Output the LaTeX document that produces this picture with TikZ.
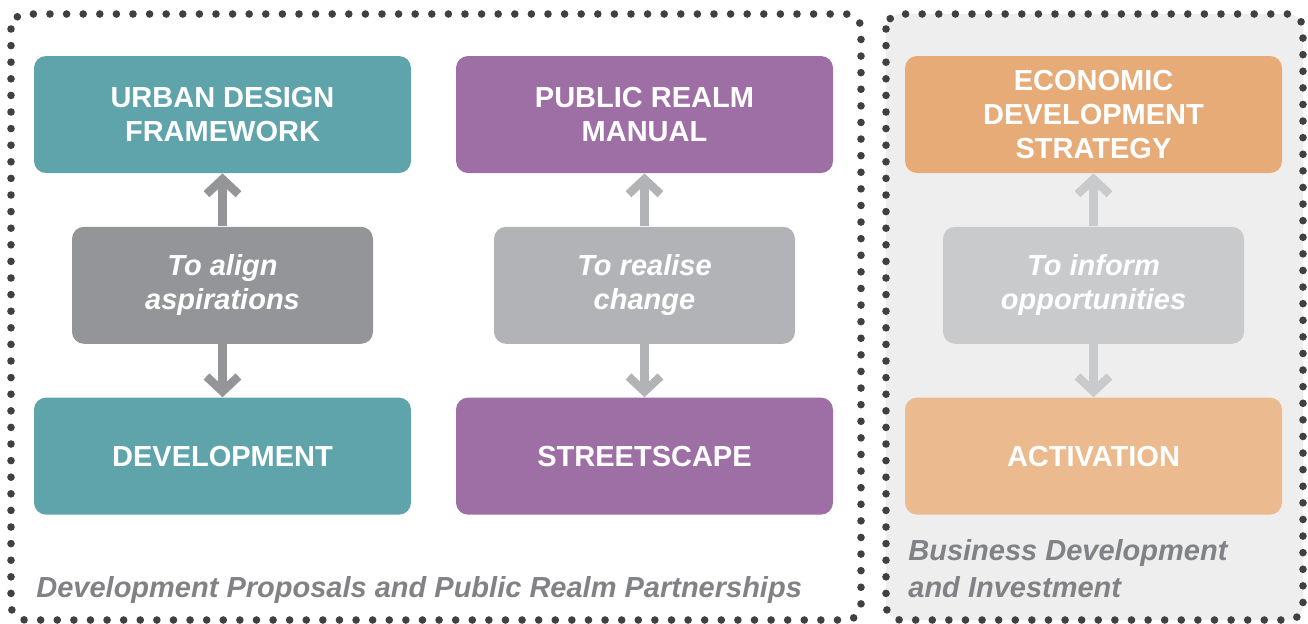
\documentclass[tikz,border=0pt]{standalone}
\usepackage{fontspec}
\setmainfont{Liberation Sans}
\usetikzlibrary{positioning,arrows.meta}

\definecolor{udfteal}{HTML}{5FA3AB}
\definecolor{prmpurple}{HTML}{9E6FA5}
\definecolor{edsorange}{HTML}{E7AB78}
\definecolor{actorange}{HTML}{EBBA8F}
\definecolor{aligngray}{HTML}{939598}
\definecolor{realisegray}{HTML}{B1B3B6}
\definecolor{informgray}{HTML}{C9CACC}
\definecolor{bdigray}{HTML}{EEEEEE}
\definecolor{dotgray}{HTML}{404040}
\definecolor{capgray}{HTML}{808285}

\begin{document}
\begin{tikzpicture}[x=0.5pt, y=-0.5pt,
  bigbox/.style={rounded corners=6pt, minimum width=188.5pt, minimum height=58.5pt,
    inner sep=0pt, text=white, align=center, font=\fontsize{14.5}{17}\selectfont\bfseries},
  midbox/.style={bigbox, minimum width=150.5pt, font=\fontsize{14.5}{17}\selectfont\bfseries\itshape},
  dotframe/.style={draw=dotgray, line width=3.8pt, line cap=round,
    dash pattern=on 0pt off 8.3pt, rounded corners=7.5pt},
  link/.style={line width=4.2pt, -{Straight Barb[length=7.5pt, width=16pt]}},
  caption/.style={inner sep=0pt, text=capgray, font=\fontsize{14.5}{18.5}\selectfont\bfseries\itshape},
  node distance=26.5pt]
  \useasboundingbox (0,0) rectangle (1308,623);
  % frames
  \draw[dotframe] (11,14) rectangle (861,620);
  \filldraw[dotframe, fill=bdigray] (886,14) rectangle (1303,620);
  % boxes
  \node[bigbox, fill=udfteal] (udf) at (222.5,114.5) {URBAN DESIGN\\FRAMEWORK};
  \node[midbox, fill=aligngray, below=of udf] (align) {To align\\aspirations};
  \node[bigbox, fill=udfteal, below=of align] (dev) {DEVELOPMENT};

  \node[bigbox, fill=prmpurple] (prm) at (644.5,114.5) {PUBLIC REALM\\MANUAL};
  \node[midbox, fill=realisegray, below=of prm] (realise) {To realise\\change};
  \node[bigbox, fill=prmpurple, below=of realise] (street) {STREETSCAPE};

  \node[bigbox, fill=edsorange] (eds) at (1093.5,114.5) {ECONOMIC\\DEVELOPMENT\\STRATEGY};
  \node[midbox, fill=informgray, below=of eds] (inform) {To inform\\opportunities};
  \node[bigbox, fill=actorange, below=of inform] (act) {ACTIVATION};
  % arrows
  \foreach \m/\t/\b/\c in {align/udf/dev/aligngray, realise/prm/street/realisegray, inform/eds/act/informgray} {
    \draw[link, draw=\c] (\m) -- (\t);
    \draw[link, draw=\c] (\m) -- (\b);
  };
  % captions
  \node[caption, anchor=base west] (dpp) at (36,597) {Development Proposals and Public Realm Partnerships};
  \node[caption, anchor=base west, align=left] (bdi) at (908,597) {Business Development\\and Investment};
\end{tikzpicture}
\end{document}
